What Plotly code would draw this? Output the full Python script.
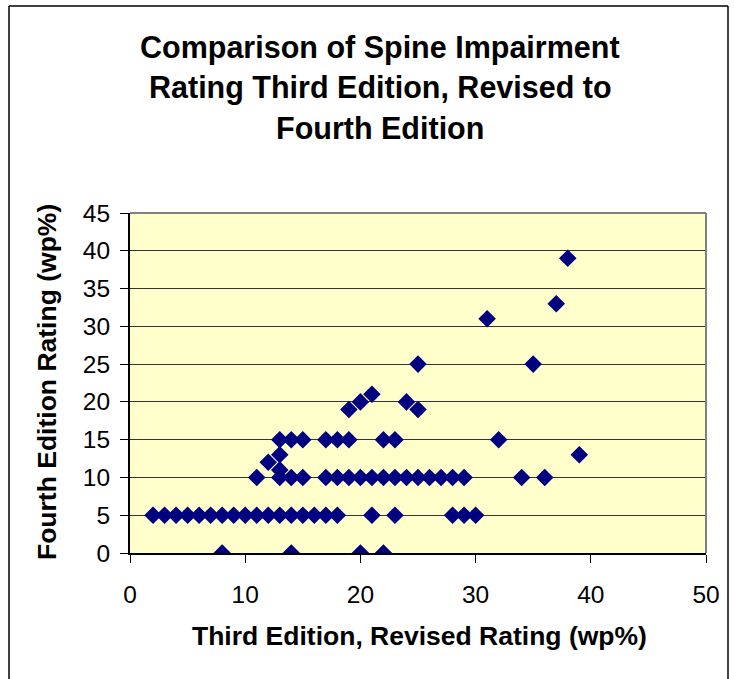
import plotly.graph_objects as go

# Data: (Third Edition Revised rating, Fourth Edition rating)
third_rev = [8, 14, 20, 22,
             2, 3, 4, 5, 6, 7, 8, 9, 10, 11, 12, 13, 14, 15, 16, 17, 18, 21, 23, 28, 29, 30,
             11, 13, 14, 15, 17, 18, 19, 20, 21, 22, 23, 24, 25, 26, 27, 28, 29, 34, 36,
             13, 12, 13,
             13, 14, 15, 17, 18, 19, 22, 23, 32,
             19, 25, 20, 24, 21, 25, 35, 31, 37, 38, 39]
fourth = [0, 0, 0, 0,
          5, 5, 5, 5, 5, 5, 5, 5, 5, 5, 5, 5, 5, 5, 5, 5, 5, 5, 5, 5, 5, 5,
          10, 10, 10, 10, 10, 10, 10, 10, 10, 10, 10, 10, 10, 10, 10, 10, 10, 10, 10,
          11, 12, 13,
          15, 15, 15, 15, 15, 15, 15, 15, 15,
          19, 19, 20, 20, 21, 25, 25, 31, 33, 39, 13]

x_ticks = [0, 10, 20, 30, 40, 50]
y_ticks = [0, 5, 10, 15, 20, 25, 30, 35, 40, 45]

title_lines = ["Comparison of Spine Impairment",
               "Rating Third Edition, Revised to",
               "Fourth Edition"]
x_title = "Third Edition, Revised Rating (wp%)"
y_title = "Fourth Edition Rating (wp%)"

FONT = "Liberation Sans, Arial, sans-serif"

W, H = 735, 679
L, T = 130, 213
R = W - 706
B = H - 553
pw, ph = W - L - R, H - T - B


def px(xp):
    return (xp - L) / pw


def py(yp):
    return (H - B - yp) / ph


fig = go.Figure()
fig.add_trace(go.Scatter(
    x=third_rev, y=fourth, mode="markers",
    marker=dict(symbol="diamond", size=13.5, color="#000080", line=dict(width=0)),
    showlegend=False, hoverinfo="x+y"))

annotations = []
for i, line in enumerate(title_lines):
    annotations.append(dict(
        text="<b>" + line + "</b>", xref="paper", yref="paper",
        x=px(380), y=py(48 + 40 * i), xanchor="center", yanchor="middle",
        showarrow=False, font=dict(size=30.5, family=FONT, color="black")))
annotations.append(dict(
    text="<b>" + x_title + "</b>", xref="paper", yref="paper",
    x=px(419), y=py(636), xanchor="center", yanchor="middle",
    showarrow=False, font=dict(size=26.5, family=FONT, color="black")))
annotations.append(dict(
    text="<b>" + y_title + "</b>", xref="paper", yref="paper",
    x=px(47), y=py(382), xanchor="center", yanchor="middle", textangle=-90,
    showarrow=False, font=dict(size=26.5, family=FONT, color="black")))

fig.update_layout(
    width=W, height=H,
    margin=dict(l=L, r=R, t=T, b=B),
    paper_bgcolor="white",
    plot_bgcolor="#FFFFCC",
    font=dict(family=FONT, size=22, color="black"),
    xaxis=dict(range=[0, 50], tickvals=x_ticks, showgrid=False, zeroline=False,
               showline=True, linecolor="black", linewidth=2,
               ticks="outside", ticklen=8, tickcolor="black", tickwidth=1,
               ticklabelstandoff=11, tickfont=dict(size=24.5)),
    yaxis=dict(range=[0, 45], tickvals=y_ticks, showgrid=True, gridcolor="#333333",
               gridwidth=1, zeroline=False,
               showline=True, linecolor="black", linewidth=2,
               ticks="outside", ticklen=8, tickcolor="black", tickwidth=1,
               ticklabelstandoff=5, tickfont=dict(size=24.5)),
    shapes=[
        dict(type="line", xref="paper", yref="paper", x0=0, x1=1, y0=1, y1=1,
             line=dict(color="#808080", width=2)),
        dict(type="line", xref="paper", yref="paper", x0=1, x1=1, y0=0, y1=1,
             line=dict(color="#808080", width=2)),
        # outer chart border
        dict(type="line", xref="paper", yref="paper", x0=px(9), x1=px(9), y0=py(690), y1=py(6),
             line=dict(color="black", width=1.5)),
        dict(type="line", xref="paper", yref="paper", x0=px(728), x1=px(728), y0=py(690), y1=py(6),
             line=dict(color="black", width=1.5)),
        dict(type="line", xref="paper", yref="paper", x0=px(9), x1=px(728), y0=py(6), y1=py(6),
             line=dict(color="black", width=1.5)),
    ],
    annotations=annotations,
)

fig.write_html("out.html", config={"displayModeBar": False},
               post_script="document.body.style.margin='0';")
